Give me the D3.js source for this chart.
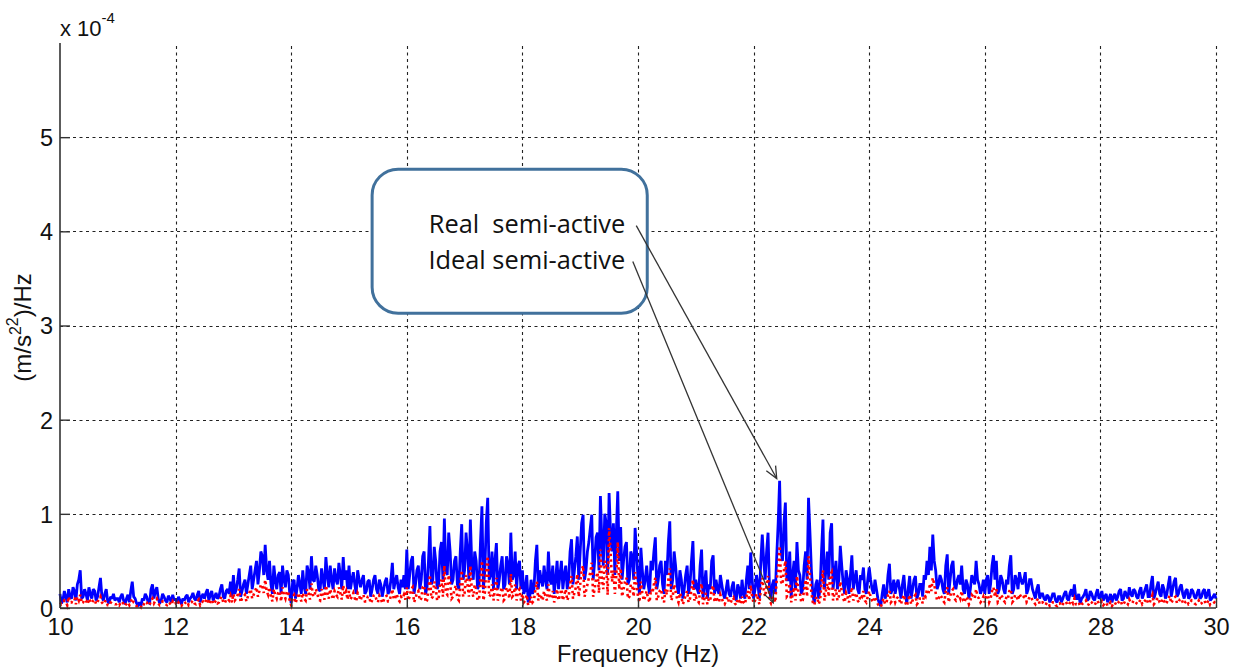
<!DOCTYPE html>
<html><head><meta charset="utf-8">
<script src="https://cdn.jsdelivr.net/npm/d3@7"></script>
<style>
html,body{margin:0;padding:0;background:#fff;}
svg{display:block;}
</style></head>
<body>
<script>
// ---- data (units of 1e-4 (m/s^2)^2/Hz) ----
// "OnGrid" arrays: samples at 10.00, 10.05, ... 30.00 Hz
// "HalfStep" arrays: samples at 10.025, 10.075, ... 29.975 Hz
const freqStart = 10, freqStep = 0.05;
const realOnGrid = [
0.15,0.08,0.12,0.2,0.1,0.18,0.25,0.4,0.12,0.15,0.22,0.1,0.18,0.12,0.32,0.08,0.2,0.05,0.1,0.08,
0.1,0.12,0.08,0.1,0.06,0.28,0.1,0.03,0.02,0.08,0.12,0.05,0.25,0.18,0.1,0.08,0.12,0.06,0.1,0.14,
0.1,0.12,0.04,0.08,0.14,0.1,0.16,0.08,0.18,0.12,0.1,0.2,0.14,0.08,0.16,0.12,0.25,0.1,0.2,0.28,
0.35,0.2,0.42,0.18,0.3,0.25,0.45,0.3,0.5,0.4,0.55,0.67,0.3,0.25,0.45,0.2,0.38,0.45,0.22,0.35,
0.05,0.3,0.2,0.25,0.4,0.15,0.38,0.55,0.28,0.35,0.18,0.3,0.54,0.22,0.3,0.42,0.25,0.35,0.54,0.4,
0.45,0.3,0.25,0.4,0.22,0.35,0.18,0.3,0.2,0.35,0.15,0.25,0.2,0.32,0.18,0.48,0.28,0.22,0.3,0.35,
0.62,0.35,0.55,0.25,0.45,0.3,0.6,0.22,0.87,0.3,0.5,0.25,0.7,0.95,0.35,0.6,0.3,0.55,0.2,0.89,
0.4,0.6,0.94,0.3,0.5,0.25,1.08,0.4,1.17,0.35,0.2,0.69,0.3,0.55,0.25,0.45,0.8,0.35,0.2,0.5,
0.4,0.2,0.06,0.3,0.2,0.67,0.4,0.23,0.3,0.6,0.25,0.15,0.5,0.35,0.2,0.45,0.3,0.73,0.4,0.76,
0.6,0.99,0.4,0.7,0.99,0.5,0.8,1.19,0.45,0.9,1.22,0.6,0.35,1.24,0.86,0.5,0.7,0.3,0.55,0.85,
0.3,0.64,0.2,0.45,0.15,0.4,0.75,0.3,0.5,0.15,0.35,0.92,0.3,0.45,0.15,0.3,0.2,0.45,0.25,0.71,
0.3,0.15,0.62,0.25,0.1,0.2,0.56,0.3,0.15,0.25,0.1,0.3,0.12,0.28,0.08,0.2,0.3,0.1,0.45,0.59,
0.1,0.35,0.1,0.78,0.3,0.8,0.1,0.3,0.55,1.35,0.5,1.12,0.3,0.11,0.5,0.7,0.35,0.2,0.6,1.17,
0.4,0.05,0.3,0.2,0.94,0.4,0.3,0.9,0.35,0.2,0.66,0.25,0.4,0.15,0.56,0.3,0.2,0.35,0.43,0.15,
0.43,0.2,0.3,0.1,0.02,0.25,0.15,0.47,0.2,0.15,0.3,0.1,0.35,0.05,0.34,0.2,0.34,0.15,0.25,0.35,
0.5,0.65,0.78,0.4,0.25,0.3,0.15,0.57,0.3,0.5,0.2,0.35,0.45,0.15,0.25,0.2,0.3,0.5,0.25,0.2,
0.15,0.35,0.25,0.56,0.5,0.2,0.3,0.15,0.25,0.56,0.2,0.3,0.38,0.25,0.38,0.2,0.3,0.15,0.2,0.1,
0.15,0.08,0.12,0.1,0.15,0.06,0.12,0.1,0.18,0.08,0.2,0.25,0.1,0.05,0.12,0.2,0.1,0.15,0.08,0.2,
0.12,0.08,0.15,0.1,0.06,0.15,0.12,0.2,0.1,0.14,0.22,0.12,0.18,0.1,0.22,0.15,0.25,0.12,0.34,0.15,
0.28,0.12,0.2,0.15,0.34,0.2,0.32,0.15,0.25,0.1,0.2,0.12,0.18,0.1,0.2,0.12,0.2,0.15,0.08,0.12,
0.1
];
const realHalfStep = [
0.05,0.18,0.06,0.12,0.22,0.08,0.3,0.1,0.2,0.08,0.15,0.2,0.08,0.22,0.12,0.15,0.07,0.12,0.15,0.1,
0.06,0.15,0.04,0.14,0.18,0.12,0.05,0.06,0.1,0.15,0.06,0.2,0.1,0.22,0.05,0.15,0.08,0.13,0.06,0.08,
0.05,0.08,0.1,0.12,0.06,0.12,0.1,0.14,0.06,0.15,0.16,0.08,0.18,0.12,0.1,0.2,0.12,0.18,0.15,0.12,
0.15,0.3,0.12,0.25,0.15,0.35,0.2,0.4,0.25,0.6,0.35,0.4,0.5,0.15,0.3,0.35,0.15,0.3,0.4,0.15,
0.28,0.1,0.35,0.15,0.22,0.45,0.2,0.3,0.45,0.2,0.42,0.2,0.35,0.45,0.2,0.3,0.48,0.2,0.3,0.2,
0.2,0.38,0.15,0.3,0.3,0.15,0.28,0.12,0.3,0.2,0.3,0.12,0.28,0.15,0.3,0.2,0.35,0.15,0.22,0.2,
0.2,0.5,0.15,0.4,0.2,0.55,0.15,0.5,0.25,0.65,0.2,0.6,0.3,0.4,0.8,0.25,0.5,0.25,0.6,0.3,
0.8,0.3,0.45,0.6,0.2,0.7,0.2,0.9,0.3,0.6,0.5,0.2,0.45,0.2,0.55,0.25,0.3,0.6,0.45,0.2,
0.15,0.35,0.1,0.15,0.5,0.2,0.3,0.45,0.2,0.3,0.45,0.3,0.2,0.5,0.35,0.2,0.6,0.25,0.55,0.3,
0.9,0.3,0.6,0.85,0.3,0.75,0.4,0.7,1.0,0.35,0.8,0.9,0.8,0.5,0.3,0.65,0.25,0.6,0.3,0.6,
0.15,0.4,0.3,0.25,0.5,0.6,0.2,0.45,0.25,0.5,0.7,0.2,0.6,0.25,0.4,0.1,0.35,0.15,0.5,0.2,
0.2,0.45,0.1,0.4,0.25,0.5,0.15,0.2,0.35,0.15,0.2,0.15,0.22,0.12,0.25,0.1,0.15,0.3,0.2,0.3,
0.2,0.25,0.5,0.5,0.6,0.2,0.25,0.15,0.9,0.6,0.9,0.3,0.6,0.35,0.2,0.4,0.15,0.45,0.3,0.8,
0.15,0.25,0.1,0.6,0.2,0.6,0.8,0.2,0.5,0.3,0.45,0.15,0.3,0.35,0.2,0.4,0.15,0.3,0.2,0.3,
0.3,0.15,0.2,0.05,0.15,0.1,0.35,0.15,0.3,0.25,0.2,0.25,0.15,0.2,0.1,0.3,0.1,0.25,0.12,0.3,
0.35,0.4,0.5,0.2,0.35,0.2,0.45,0.15,0.45,0.25,0.3,0.25,0.2,0.3,0.1,0.35,0.25,0.3,0.15,0.3,
0.3,0.15,0.45,0.3,0.15,0.35,0.2,0.3,0.45,0.15,0.35,0.2,0.3,0.3,0.15,0.3,0.2,0.1,0.25,0.15,
0.1,0.14,0.06,0.15,0.08,0.12,0.06,0.15,0.1,0.16,0.12,0.1,0.15,0.1,0.15,0.08,0.18,0.1,0.15,0.1,
0.18,0.12,0.06,0.15,0.12,0.08,0.18,0.08,0.18,0.1,0.15,0.2,0.12,0.18,0.1,0.2,0.12,0.25,0.1,0.22,
0.15,0.25,0.1,0.25,0.12,0.28,0.12,0.22,0.15,0.18,0.1,0.2,0.12,0.16,0.1,0.18,0.1,0.2,0.1,0.15
];
const idealOnGrid = [
0.06,0.05,0.07,0.12,0.06,0.1,0.12,0.14,0.06,0.08,0.1,0.05,0.09,0.07,0.12,0.04,0.08,0.03,0.05,0.04,
0.05,0.06,0.04,0.05,0.03,0.1,0.05,0.02,0.01,0.04,0.06,0.03,0.1,0.08,0.05,0.04,0.06,0.03,0.05,0.07,
0.05,0.06,0.02,0.04,0.07,0.05,0.08,0.04,0.09,0.06,0.05,0.1,0.07,0.04,0.08,0.06,0.12,0.05,0.1,0.13,
0.15,0.1,0.2,0.1,0.14,0.12,0.2,0.14,0.22,0.18,0.24,0.3,0.14,0.12,0.2,0.1,0.18,0.22,0.1,0.16,
0.03,0.14,0.1,0.12,0.16,0.08,0.16,0.26,0.12,0.16,0.08,0.14,0.24,0.1,0.14,0.18,0.12,0.16,0.24,0.18,
0.18,0.12,0.1,0.16,0.08,0.14,0.07,0.12,0.08,0.14,0.06,0.1,0.08,0.13,0.07,0.2,0.11,0.09,0.12,0.14,
0.22,0.12,0.22,0.1,0.18,0.1,0.24,0.08,0.35,0.12,0.22,0.1,0.3,0.45,0.14,0.26,0.12,0.24,0.08,0.4,
0.16,0.25,0.45,0.12,0.2,0.1,0.5,0.16,0.55,0.14,0.08,0.32,0.12,0.22,0.1,0.18,0.36,0.14,0.08,0.2,
0.15,0.08,0.03,0.12,0.08,0.28,0.15,0.08,0.12,0.25,0.1,0.06,0.2,0.14,0.08,0.2,0.12,0.34,0.16,0.36,
0.25,0.45,0.18,0.32,0.48,0.2,0.38,0.62,0.2,0.45,0.85,0.28,0.15,0.7,0.42,0.2,0.32,0.12,0.24,0.38,
0.12,0.28,0.08,0.18,0.06,0.16,0.32,0.12,0.2,0.06,0.14,0.42,0.12,0.18,0.06,0.12,0.08,0.18,0.1,0.3,
0.12,0.06,0.26,0.1,0.04,0.08,0.24,0.12,0.06,0.1,0.04,0.12,0.05,0.11,0.03,0.08,0.12,0.04,0.18,0.24,
0.05,0.15,0.04,0.32,0.12,0.34,0.05,0.12,0.3,0.66,0.25,0.5,0.14,0.06,0.22,0.34,0.16,0.08,0.3,0.55,
0.16,0.03,0.12,0.08,0.4,0.18,0.12,0.38,0.15,0.08,0.28,0.1,0.16,0.06,0.22,0.12,0.08,0.14,0.18,0.06,
0.18,0.08,0.12,0.04,0.01,0.1,0.06,0.18,0.08,0.06,0.12,0.04,0.14,0.02,0.14,0.08,0.14,0.06,0.1,0.14,
0.2,0.26,0.32,0.16,0.1,0.12,0.06,0.22,0.12,0.2,0.08,0.14,0.18,0.06,0.1,0.08,0.12,0.2,0.1,0.08,
0.06,0.14,0.1,0.22,0.2,0.08,0.12,0.06,0.1,0.2,0.08,0.12,0.15,0.1,0.15,0.08,0.12,0.06,0.08,0.04,
0.06,0.03,0.05,0.04,0.06,0.02,0.05,0.04,0.07,0.03,0.08,0.1,0.04,0.02,0.05,0.08,0.04,0.06,0.03,0.08,
0.05,0.03,0.06,0.04,0.02,0.06,0.05,0.08,0.04,0.06,0.09,0.05,0.07,0.04,0.09,0.06,0.1,0.05,0.14,0.06,
0.11,0.05,0.08,0.06,0.13,0.08,0.12,0.06,0.1,0.04,0.08,0.05,0.07,0.04,0.08,0.05,0.08,0.06,0.03,0.05,
0.04
];
const idealHalfStep = [
0.04,0.08,0.03,0.06,0.1,0.04,0.08,0.05,0.09,0.04,0.07,0.08,0.04,0.09,0.06,0.07,0.03,0.06,0.05,0.04,
0.03,0.07,0.02,0.06,0.07,0.06,0.02,0.03,0.05,0.07,0.03,0.08,0.05,0.1,0.03,0.07,0.04,0.06,0.03,0.04,
0.03,0.04,0.05,0.06,0.03,0.06,0.05,0.07,0.03,0.07,0.08,0.04,0.09,0.06,0.05,0.1,0.06,0.09,0.08,0.06,
0.08,0.14,0.06,0.12,0.07,0.16,0.1,0.18,0.12,0.25,0.16,0.18,0.22,0.07,0.14,0.16,0.07,0.14,0.18,0.07,
0.12,0.05,0.16,0.07,0.1,0.2,0.09,0.14,0.2,0.09,0.2,0.09,0.16,0.2,0.09,0.14,0.22,0.09,0.14,0.09,
0.09,0.16,0.07,0.13,0.13,0.07,0.12,0.05,0.13,0.09,0.13,0.05,0.12,0.07,0.13,0.09,0.15,0.07,0.1,0.09,
0.08,0.2,0.06,0.16,0.08,0.22,0.06,0.2,0.1,0.28,0.08,0.25,0.12,0.16,0.35,0.1,0.2,0.1,0.25,0.12,
0.35,0.12,0.18,0.25,0.08,0.3,0.08,0.4,0.12,0.25,0.2,0.08,0.18,0.08,0.22,0.1,0.12,0.25,0.18,0.08,
0.06,0.14,0.04,0.06,0.2,0.08,0.12,0.18,0.08,0.12,0.18,0.12,0.08,0.2,0.14,0.08,0.25,0.1,0.22,0.12,
0.4,0.12,0.25,0.38,0.12,0.32,0.16,0.3,0.5,0.14,0.6,0.4,0.35,0.2,0.12,0.28,0.1,0.25,0.12,0.25,
0.06,0.16,0.12,0.1,0.2,0.25,0.08,0.18,0.1,0.2,0.3,0.08,0.25,0.1,0.16,0.04,0.14,0.06,0.2,0.08,
0.08,0.18,0.04,0.16,0.1,0.2,0.06,0.08,0.14,0.06,0.08,0.06,0.09,0.05,0.1,0.04,0.06,0.12,0.08,0.12,
0.08,0.1,0.2,0.2,0.25,0.08,0.1,0.06,0.4,0.28,0.4,0.12,0.26,0.14,0.08,0.16,0.06,0.2,0.12,0.35,
0.06,0.1,0.04,0.26,0.08,0.26,0.35,0.08,0.2,0.12,0.18,0.06,0.12,0.14,0.08,0.16,0.06,0.12,0.08,0.12,
0.12,0.06,0.08,0.02,0.06,0.04,0.14,0.06,0.12,0.1,0.08,0.1,0.06,0.08,0.04,0.12,0.04,0.1,0.05,0.12,
0.14,0.18,0.25,0.08,0.14,0.08,0.18,0.06,0.18,0.1,0.12,0.1,0.08,0.12,0.04,0.14,0.1,0.12,0.06,0.12,
0.12,0.06,0.18,0.12,0.06,0.14,0.08,0.12,0.18,0.06,0.14,0.08,0.12,0.12,0.06,0.12,0.08,0.04,0.1,0.06,
0.04,0.06,0.02,0.06,0.03,0.05,0.02,0.06,0.04,0.06,0.05,0.04,0.06,0.04,0.06,0.03,0.07,0.04,0.06,0.04,
0.07,0.05,0.02,0.06,0.05,0.03,0.07,0.03,0.07,0.04,0.06,0.08,0.05,0.07,0.04,0.08,0.05,0.1,0.04,0.09,
0.06,0.1,0.04,0.1,0.05,0.11,0.05,0.09,0.06,0.07,0.04,0.08,0.05,0.06,0.04,0.07,0.04,0.08,0.04,0.06
];
const xTicks = [10,12,14,16,18,20,22,24,26,28,30];
const yTicks = [0,1,2,3,4,5];
const xLabel = "Frequency (Hz)";
const labelReal = "Real  semi-active";
const labelIdeal = "Ideal semi-active";
// annotation anchors in data units [Hz, 1e-4]
const calloutBox = {x0:15.40, x1:20.16, y0:4.66, y1:3.13};
const calloutTextX = 19.78, calloutTextY = [3.98, 3.60];
const arrowReal = {from:[19.97,4.06], to:[22.40,1.375]};
const arrowIdeal = {from:[19.91,3.68], to:[22.34,0.055]};

// merge the on-grid and half-step readings into one ordered series
function merge(onGrid, half){
  const out = [];
  onGrid.forEach((v,i)=>{
    out.push([freqStart+i*freqStep, v]);
    if (i < half.length) out.push([freqStart+(i+0.5)*freqStep, half[i]]);
  });
  return out;
}

// ---- layout ----
const W = 1244, H = 671;
const L = 60, R = 1216, T = 43, B = 608;
const x = d3.scaleLinear().domain([10,30]).range([L,R]);
const y = d3.scaleLinear().domain([0,6]).range([B,T]);

const svg = d3.select("body").append("svg").attr("width",W).attr("height",H);
const FONT = "'Liberation Sans', Arial, sans-serif";
const FS = 23.5;

// grid
const grid = svg.append("g").attr("stroke","#222").attr("stroke-width",1.1).attr("stroke-dasharray","3,3.5");
grid.selectAll("line.v").data(xTicks.slice(1)).join("line")
  .attr("x1",d=>Math.round(x(d))+0.5).attr("x2",d=>Math.round(x(d))+0.5).attr("y1",B).attr("y2",T);
grid.selectAll("line.h").data(yTicks.slice(1)).join("line")
  .attr("y1",d=>Math.round(y(d))+0.5).attr("y2",d=>Math.round(y(d))+0.5).attr("x1",L).attr("x2",R);

// data lines
const realData = merge(realOnGrid, realHalfStep);
const idealData = merge(idealOnGrid, idealHalfStep);
const line = d3.line().x(d=>x(d[0])).y(d=>y(d[1]));
svg.append("path").datum(realData).attr("d",line).attr("fill","none")
  .attr("stroke","#0000ff").attr("stroke-width",2.8).attr("stroke-linejoin","miter").attr("stroke-miterlimit",2);
svg.append("path").datum(idealData).attr("d",line).attr("fill","none")
  .attr("stroke","#ff0000").attr("stroke-width",2.6).attr("stroke-dasharray","2.4,3.2");

// axes
const xAxis = d3.axisBottom(x).tickValues(xTicks).tickFormat(d3.format("d")).tickSizeInner(-10).tickSizeOuter(0).tickPadding(10);
const yAxis = d3.axisLeft(y).tickValues(yTicks).tickFormat(d3.format("d")).tickSizeInner(-10).tickSizeOuter(0).tickPadding(7);
const gx = svg.append("g").attr("transform",`translate(0,${B})`).call(xAxis);
const gy = svg.append("g").attr("transform",`translate(${L},0)`).call(yAxis);
[gx,gy].forEach(g=>{
  g.select(".domain").attr("stroke","#333").attr("stroke-width",1.6);
  g.selectAll(".tick line").attr("stroke","#333").attr("stroke-width",1.4);
  g.selectAll(".tick text").attr("fill","#111").style("font-family",FONT).style("font-size",FS+"px");
});
gy.select(".domain").attr("d",`M0,${B}V${T}`);
gx.select(".domain").attr("d",`M${L},0H${R}`);
gy.selectAll(".tick text").attr("dy","0.36em");

// axis labels
svg.append("text").attr("x",(L+R)/2).attr("y",662).attr("text-anchor","middle")
  .style("font-family",FONT).style("font-size",FS+"px").attr("fill","#111").text(xLabel);

const yl = svg.append("text").attr("transform",`translate(31,${(T+B)/2+2}) rotate(-90)`)
  .attr("text-anchor","middle").style("font-family",FONT).style("font-size","24px").attr("fill","#111");
yl.append("tspan").text("(m/s");
yl.append("tspan").attr("dy",-10).style("font-size","16px").text("2");
yl.append("tspan").attr("dy",-3).style("font-size","16px").text("2");
yl.append("tspan").attr("dy",13).text(")/Hz");

// exponent
const ex = svg.append("text").attr("x",L).attr("y",36).style("font-family",FONT).style("font-size","22px").attr("fill","#111");
ex.append("tspan").text("x 10");
ex.append("tspan").attr("dy",-13).style("font-size","15px").text("-4");

// callout
const ann = svg.append("g");
ann.append("rect").attr("x",x(calloutBox.x0)).attr("y",y(calloutBox.y0))
  .attr("width",x(calloutBox.x1)-x(calloutBox.x0)).attr("height",y(calloutBox.y1)-y(calloutBox.y0))
  .attr("rx",26).attr("ry",26).attr("fill","#fff").attr("stroke","#41719c").attr("stroke-width",3);
const CFONT = "'Open Sans','Noto Sans',sans-serif";
const tIdeal = ann.append("text").attr("x",x(calloutTextX)).attr("y",y(calloutTextY[1])).attr("text-anchor","end")
  .style("font-family",CFONT).style("font-size","20px").attr("fill","#111").text(labelIdeal);
const tReal = ann.append("text").attr("x",x(calloutTextX)).attr("y",y(calloutTextY[0])).attr("text-anchor","end")
  .style("font-family",CFONT).style("font-size","20px").attr("fill","#111").attr("xml:space","preserve").style("white-space","pre").text(labelReal);
// fit font size so that the ideal label spans ~197px
const w0 = tIdeal.node().getComputedTextLength();
if (w0>0){ const fs = 20*197/w0; tIdeal.style("font-size",fs+"px"); tReal.style("font-size",fs+"px"); }

function arrow(a){
  const [x1,y1]=[x(a.from[0]),y(a.from[1])], [x2,y2]=[x(a.to[0]),y(a.to[1])];
  ann.append("line").attr("x1",x1).attr("y1",y1).attr("x2",x2).attr("y2",y2)
    .attr("stroke","#333").attr("stroke-width",1.3);
  const ang = Math.atan2(y2-y1,x2-x1), len=13, spread=0.42;
  const p = d=>[x2-len*Math.cos(ang+d), y2-len*Math.sin(ang+d)];
  const a1=p(spread), a2=p(-spread);
  ann.append("path").attr("d",`M${a1[0]},${a1[1]}L${x2},${y2}L${a2[0]},${a2[1]}`)
    .attr("fill","none").attr("stroke","#333").attr("stroke-width",1.3);
}
arrow(arrowReal);
arrow(arrowIdeal);
</script>
</body></html>
